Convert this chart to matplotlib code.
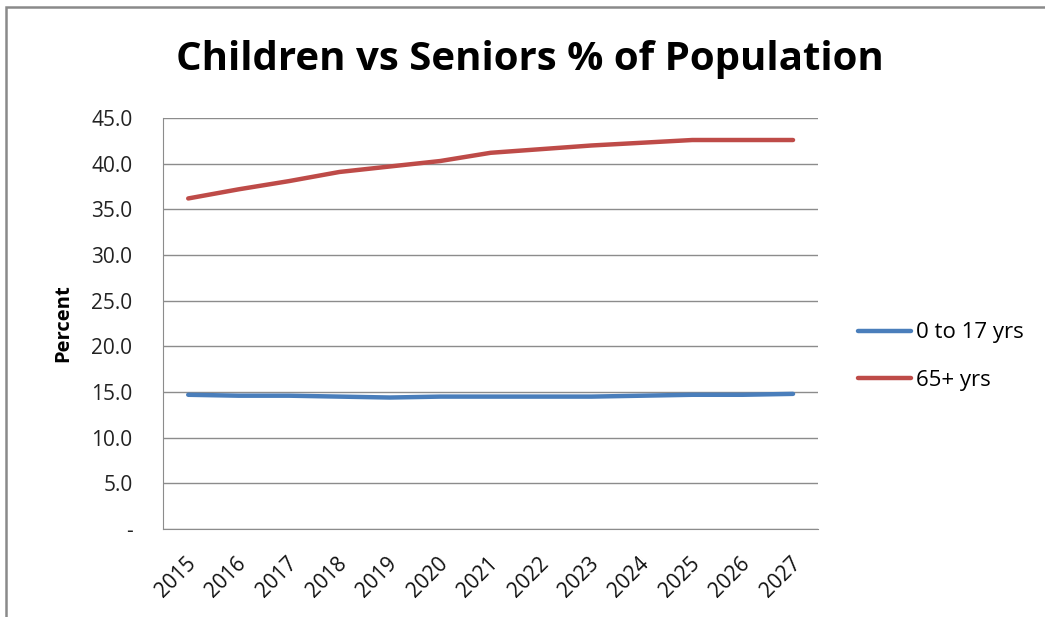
import matplotlib
matplotlib.use("Agg")
import matplotlib.pyplot as plt
from matplotlib.patches import Rectangle
from matplotlib.transforms import ScaledTranslation

years = ["2015", "2016", "2017", "2018", "2019", "2020", "2021",
         "2022", "2023", "2024", "2025", "2026", "2027"]
children = [14.7, 14.6, 14.6, 14.5, 14.4, 14.5, 14.5, 14.5, 14.5, 14.6, 14.7, 14.7, 14.8]
seniors = [36.2, 37.2, 38.1, 39.1, 39.7, 40.3, 41.2, 41.6, 42.0, 42.3, 42.6, 42.6, 42.6]
yticks = [0, 5, 10, 15, 20, 25, 30, 35, 40, 45]
ytick_labels = ["-"] + ["%.1f" % v for v in yticks[1:]]

plt.rcParams['font.family'] = ['Open Sans', 'DejaVu Sans']

fig = plt.figure(figsize=(10.45, 6.17), dpi=100)
ax = fig.add_axes([0.156, 0.1426, 0.627, 0.666])

x = range(len(years))
ax.plot(x, children, color='#4a7ebb', lw=3.2, solid_capstyle='round', label='0 to 17 yrs')
ax.plot(x, seniors, color='#be4b48', lw=3.2, solid_capstyle='round', label='65+ yrs')

ax.set_xlim(-0.5, len(years) - 0.5)
ax.set_ylim(0, 45)
ax.set_yticks(yticks)
ax.set_yticklabels(ytick_labels, fontsize=15, color='#222222')
ax.set_xticks(list(x))
ax.set_xticklabels(years, rotation=45, ha='right', va='top', rotation_mode='anchor',
                   fontsize=15, color='#111111')
ax.tick_params(axis='x', length=0, pad=17)
ax.tick_params(axis='y', length=0, pad=22)
# nudge the slanted year labels a little to the left
shift = ScaledTranslation(-3 / 100, 0, fig.dpi_scale_trans)
for lbl in ax.get_xticklabels():
    lbl.set_transform(lbl.get_transform() + shift)

ax.grid(axis='y', color='#8c8c8c', lw=1)
ax.set_axisbelow(True)
for s in ['top', 'right']:
    ax.spines[s].set_visible(False)
for s in ['left', 'bottom']:
    ax.spines[s].set_color('#8c8c8c')

ax.set_ylabel('Percent', fontsize=14.5, fontweight='bold')
ax.yaxis.set_label_coords(-0.137, 0.5)

fig.text(0.507, 0.903, 'Children vs Seniors % of Population', ha='center', va='center',
         fontsize=29, fontweight='bold')

fig.legend(loc='center left', bbox_to_anchor=(858 / 1045, 0.422), frameon=False,
           fontsize=16, borderpad=0, borderaxespad=0,
           handlelength=2.4, handletextpad=0.2, labelspacing=1.2)

# outer chart frame, clipped by the right and bottom edges
fig.patches.append(Rectangle((6 / 1045, -0.1), 1.2, 1.1 - 7 / 617, transform=fig.transFigure,
                             fill=False, edgecolor='#8a8a8a', lw=1.8))

fig.savefig('out.png', dpi=100)
